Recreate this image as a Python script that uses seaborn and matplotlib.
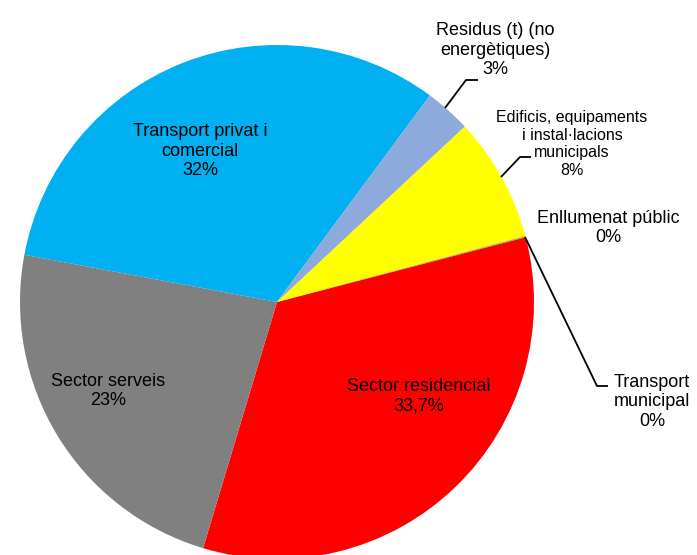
import matplotlib
matplotlib.use("Agg")
import matplotlib.pyplot as plt
import seaborn as sns

categories = ["Sector residencial", "Sector serveis", "Transport privat i\ncomercial",
              "Residus (t) (no\nenergètiques)", "Edificis, equipaments\ni instal·lacions\nmunicipals",
              "Enllumenat públic", "Transport\nmunicipal"]
values = [33.7, 23.3, 32.2, 2.9, 7.8, 0.05, 0.05]
pct_labels = ["33,7%", "23%", "32%", "3%", "8%", "0%", "0%"]
colors = ["#FF0000", "#808080", "#00B0F0", "#8EA9DB", "#FFFF00", "#FFC000", "#70AD47"]

# pie geometry in pixels (center, radius)
CX, CY, R = 277, 302, 257
W, H = 697, 555


def px(x, y):
    return (x - CX) / R, (CY - y) / R


def main():
    sns.set_theme(style="white")
    plt.rcParams["font.family"] = ["Liberation Sans", "DejaVu Sans"]

    fig = plt.figure(figsize=(W / 100, H / 100), dpi=100)
    ax = fig.add_axes([0, 0, 1, 1])
    ax.pie(values, colors=colors, startangle=14.6, counterclock=False,
           wedgeprops=dict(linewidth=0), radius=1)
    x0, y0 = px(0, H)
    x1, y1 = px(W, 0)
    ax.set_xlim(x0, x1)
    ax.set_ylim(y0, y1)
    ax.set_aspect("equal")
    ax.axis("off")

    # label index, pixel position of the text block, font size, leader line
    labels = [(0, (419, 396), 13, None),
              (1, (108, 391), 13, None),
              (2, (200, 151), 13, None),
              (3, (495, 50), 13, [(445, 108), (466, 80), (478, 80)]),
              (4, (572, 144), 11.5, [(501, 177), (520, 157), (531, 157)]),
              (5, (608, 228), 13, None),
              (6, (652, 402), 13, [(525, 237), (597, 386), (608, 386)])]
    for i, (x, y), fs, leader in labels:
        ax.text(*px(x, y), categories[i] + "\n" + pct_labels[i], color="black",
                ha="center", va="center", fontsize=fs, linespacing=1.2)
        if leader:
            pts = [px(a, b) for a, b in leader]
            ax.plot([p[0] for p in pts], [p[1] for p in pts], color="black", lw=1.3,
                    solid_capstyle="butt")

    fig.savefig("out.png", dpi=100)


if __name__ == "__main__":
    main()
